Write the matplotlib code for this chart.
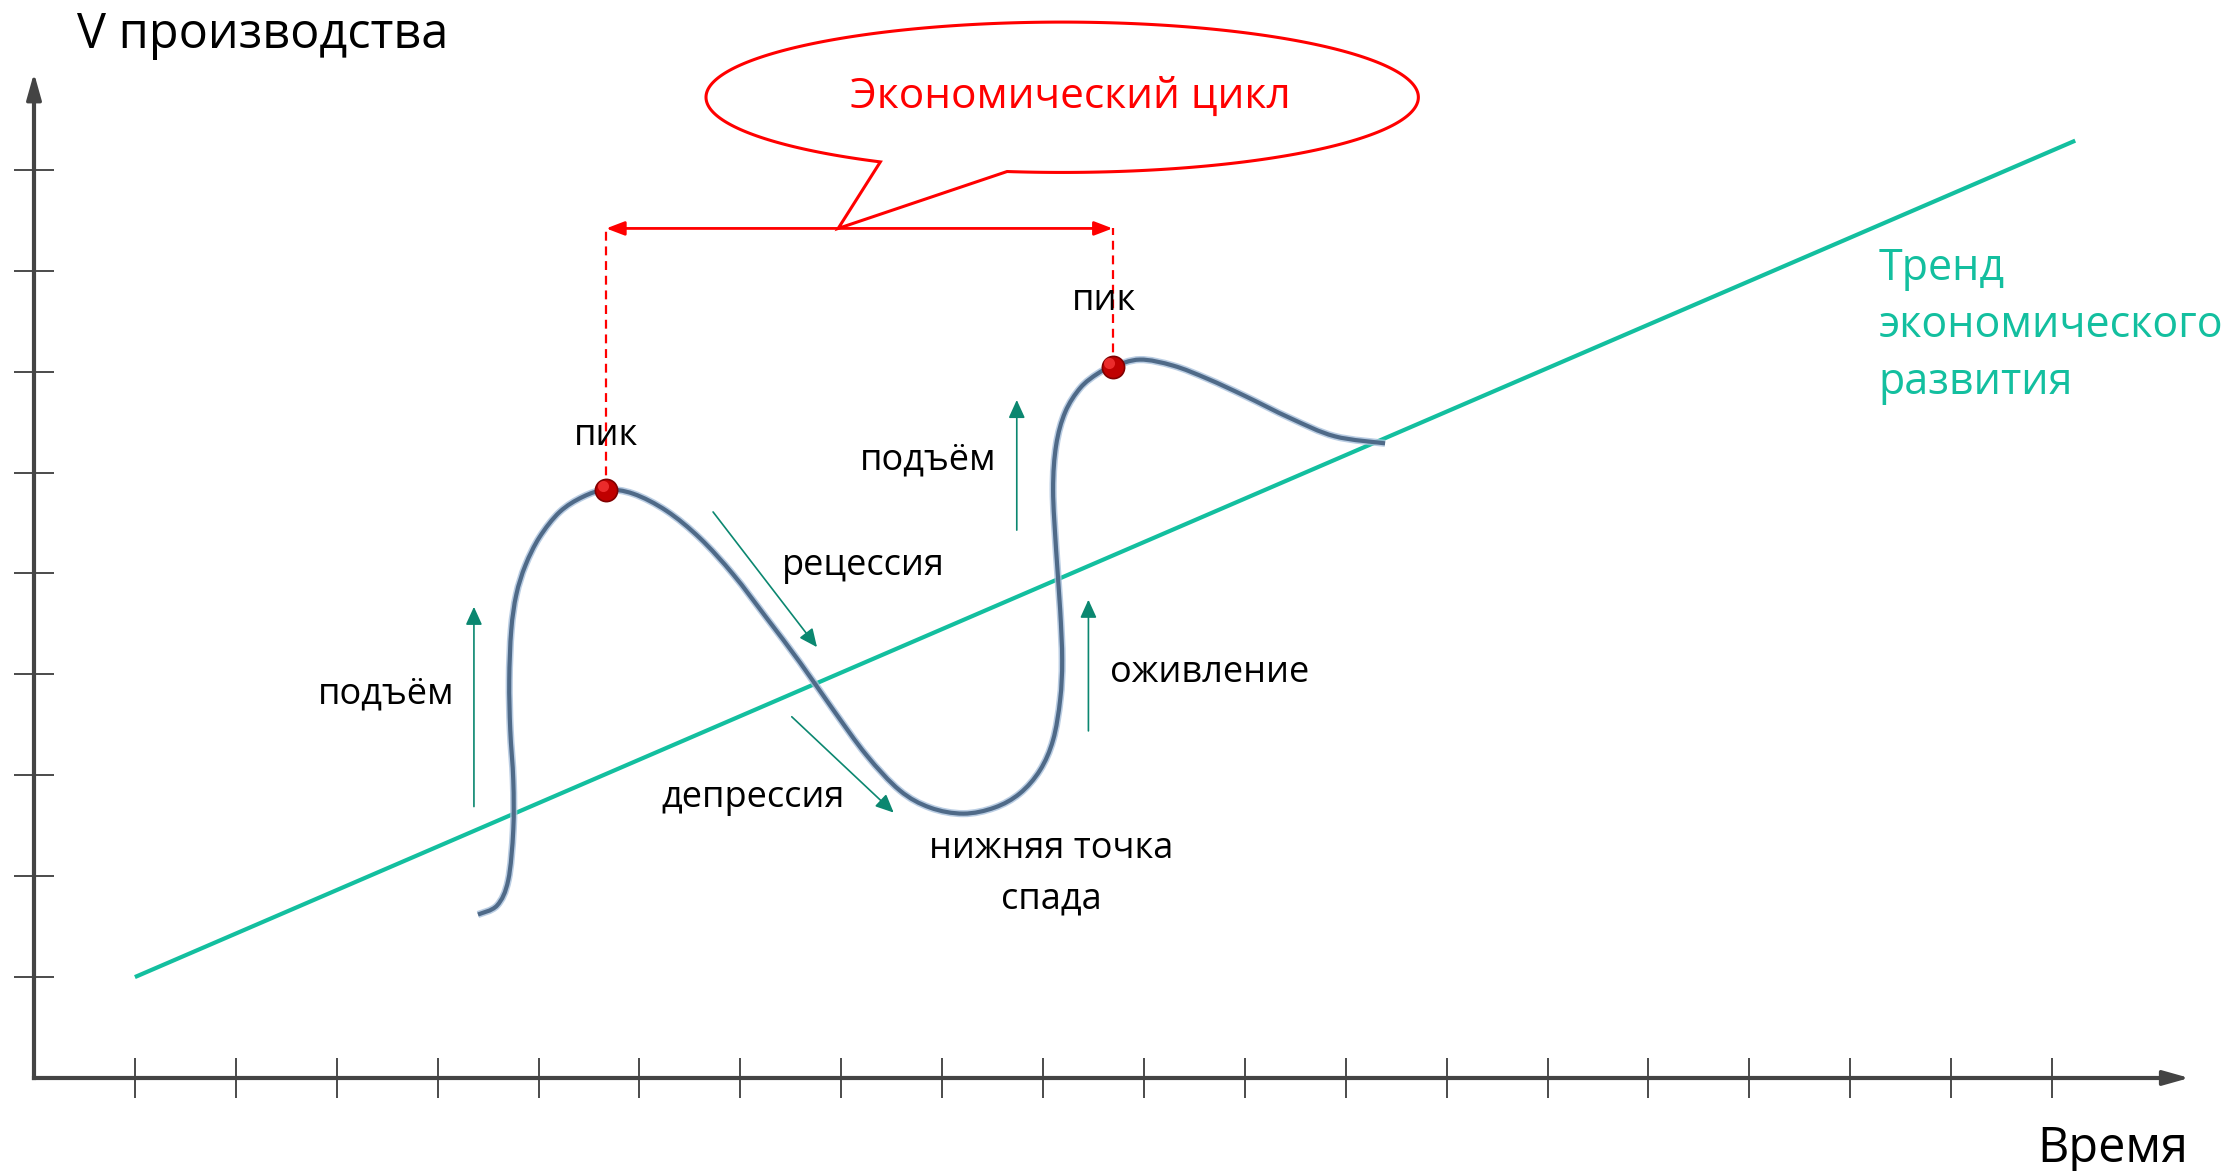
import numpy as np
import matplotlib.pyplot as plt
import matplotlib.transforms as mtransforms
from matplotlib.path import Path
from matplotlib.patches import PathPatch

plt.rcParams['font.family'] = ['Open Sans', 'DejaVu Sans']

# --- data (one tick = one unit on both axes) ---
x_ticks = np.arange(1, 21)
y_ticks = np.arange(1, 10)

trend_x = [1.0, 20.23]
trend_y = [1.0, 9.29]

cycle_x = [4.40, 4.59, 4.70, 4.75, 4.75, 4.72, 4.71, 4.73, 4.78, 4.87, 5.01, 5.21,
           5.44, 5.67, 5.94, 6.27, 6.60, 6.93, 7.26, 7.59, 7.92, 8.25, 8.58, 8.88,
           9.21, 9.52, 9.77, 9.97, 10.10, 10.17, 10.19, 10.17, 10.13, 10.10, 10.13,
           10.22, 10.37, 10.54, 10.69, 10.96, 11.29, 11.63, 12.00, 12.45, 12.89, 13.39]
cycle_y = [1.62, 1.71, 1.96, 2.46, 2.95, 3.45, 3.94, 4.44, 4.79, 5.08, 5.36, 5.61,
           5.76, 5.83, 5.79, 5.62, 5.35, 4.99, 4.56, 4.12, 3.65, 3.20, 2.85, 2.68,
           2.62, 2.68, 2.82, 3.05, 3.35, 3.75, 4.14, 4.64, 5.23, 5.83, 6.27,
           6.60, 6.84, 6.98, 7.05, 7.12, 7.06, 6.93, 6.76, 6.54, 6.36, 6.29]

peak_x = [5.67, 10.69]
peak_y = [5.83, 7.05]
cycle_level = 8.42

# phase arrows: (x_start, y_start, x_end, y_end)
phase_arrows = [(4.36, 2.69, 4.36, 4.67),
                (6.73, 5.61, 7.76, 4.27),
                (7.51, 3.58, 8.52, 2.63),
                (10.45, 3.44, 10.45, 4.74),
                (9.74, 5.43, 9.74, 6.72)]

# labels: (text, x, y, ha)
phase_labels = [('подъём', 4.17, 3.71, 'right'),
                ('подъём', 9.54, 6.03, 'right'),
                ('пик', 5.67, 6.27, 'center'),
                ('пик', 10.60, 7.61, 'center'),
                ('рецессия', 7.41, 4.99, 'left'),
                ('депрессия', 6.22, 2.69, 'left'),
                ('оживление', 10.66, 3.92, 'left'),
                ('нижняя точка', 10.08, 2.18, 'center'),
                ('спада', 10.08, 1.68, 'center')]

trend_lines = ['Тренд', 'экономического', 'развития']
trend_label_y = [7.91, 7.34, 6.78]

TEAL = '#13bf9f'
DARK_TEAL = '#0b8770'
AXIS = '#444444'


def smooth_path(xs, ys):
    """Catmull-Rom through the points, written as cubic Bezier segments."""
    p = np.column_stack([xs, ys])
    p = np.vstack([p[0], p, p[-1]])
    verts = [p[1]]
    codes = [Path.MOVETO]
    for i in range(1, len(p) - 2):
        c1 = p[i] + (p[i + 1] - p[i - 1]) / 6
        c2 = p[i + 1] - (p[i + 2] - p[i]) / 6
        verts += [c1, c2, p[i + 1]]
        codes += [Path.CURVE4] * 3
    return Path(np.array(verts), codes)


fig = plt.figure(figsize=(22.29, 11.71), dpi=100)
ax = fig.add_axes([0, 0, 1, 1])
ax.set_xlim(-0.337, 21.754)
ax.set_ylim(-0.922, 10.684)

# axes with arrows
for side in ['top', 'right']:
    ax.spines[side].set_visible(False)
ax.spines['left'].set_position(('data', 0))
ax.spines['bottom'].set_position(('data', 0))
ax.spines['left'].set_bounds(0, 9.7)
ax.spines['bottom'].set_bounds(0, 21.1)
for side in ['left', 'bottom']:
    ax.spines[side].set_linewidth(3)
    ax.spines[side].set_color(AXIS)
ax.set_xticks(x_ticks)
ax.set_yticks(y_ticks)
ax.tick_params(direction='inout', length=29, width=1.1, color='#1a1a1a',
               labelbottom=False, labelleft=False)
ax.annotate('', xy=(21.36, 0), xytext=(20.9, 0),
            arrowprops=dict(arrowstyle='-|>,head_length=1.6,head_width=0.45', mutation_scale=10,
                            lw=2.5, color=AXIS, shrinkA=0, shrinkB=0))
ax.annotate('', xy=(0, 9.96), xytext=(0, 9.5),
            arrowprops=dict(arrowstyle='-|>,head_length=1.6,head_width=0.45', mutation_scale=10,
                            lw=2.5, color=AXIS, shrinkA=0, shrinkB=0))

ax.text(0.43, 10.21, 'V производства', fontsize=35, ha='left', va='baseline')
ax.text(21.35, -0.83, 'Время', fontsize=35, ha='right', va='baseline')

# trend
ax.plot(trend_x, trend_y, color=TEAL, lw=3, solid_capstyle='butt', zorder=3)
for line, yy in zip(trend_lines, trend_label_y):
    ax.text(18.28, yy, line, fontsize=31, color=TEAL, ha='left', va='baseline')

# cycle curve (soft blue halo + darker core)
cycle_path = smooth_path(cycle_x, cycle_y)
ax.add_patch(PathPatch(cycle_path, fill=False, edgecolor='#a9c1dc', lw=5.2, alpha=0.8,
                       capstyle='butt', zorder=4))
ax.add_patch(PathPatch(cycle_path, fill=False, edgecolor='#4f6a88', lw=3.0,
                       capstyle='butt', zorder=4))

# peaks and bracket
for px, py in zip(peak_x, peak_y):
    ax.plot([px, px], [py, cycle_level], color='red', lw=1.6, ls=(0, (4, 2.6)), zorder=3)
ax.plot(peak_x, peak_y, 'o', ms=16, mfc='#c00000', mec='#800000', mew=1.2, zorder=6)
glint = mtransforms.offset_copy(ax.transData, fig=fig, x=-2.5, y=2.5, units='points')
ax.plot(peak_x, peak_y, 'o', ms=8, mfc='#f03030', mec='none', alpha=0.9,
        transform=glint, zorder=7)
ax.annotate('', xy=(peak_x[1], cycle_level), xytext=(peak_x[0], cycle_level),
            arrowprops=dict(arrowstyle='<|-|>,head_length=1.1,head_width=0.42', mutation_scale=10,
                            lw=2, color='red', shrinkA=0, shrinkB=0), zorder=5)

# speech bubble
bx, by, ba, bb = 10.19, 9.72, 3.53, 0.745
t = np.radians(np.linspace(261.1, 239.3 + 360, 300))
verts = np.column_stack([bx + ba * np.cos(t), by + bb * np.sin(t)])
verts = np.vstack([verts, [7.97, cycle_level], verts[0]])
codes = [Path.MOVETO] + [Path.LINETO] * (len(verts) - 2) + [Path.CLOSEPOLY]
ax.add_patch(PathPatch(Path(verts, codes), facecolor='white', edgecolor='red',
                       lw=2.2, joinstyle='miter', zorder=4))
ax.text(10.27, 9.61, 'Экономический цикл', fontsize=30.5, color='red',
        ha='center', va='baseline', zorder=5)

# phase arrows and labels
for x0, y0, x1, y1 in phase_arrows:
    ax.annotate('', xy=(x1, y1), xytext=(x0, y0),
                arrowprops=dict(arrowstyle='-|>,head_length=1.1,head_width=0.5', mutation_scale=10,
                                lw=1.2, color=DARK_TEAL, shrinkA=0, shrinkB=0))
for txt, x, y, ha in phase_labels:
    ax.text(x, y, txt, fontsize=26, ha=ha, va='baseline')

fig.savefig('out.png', dpi=100)
